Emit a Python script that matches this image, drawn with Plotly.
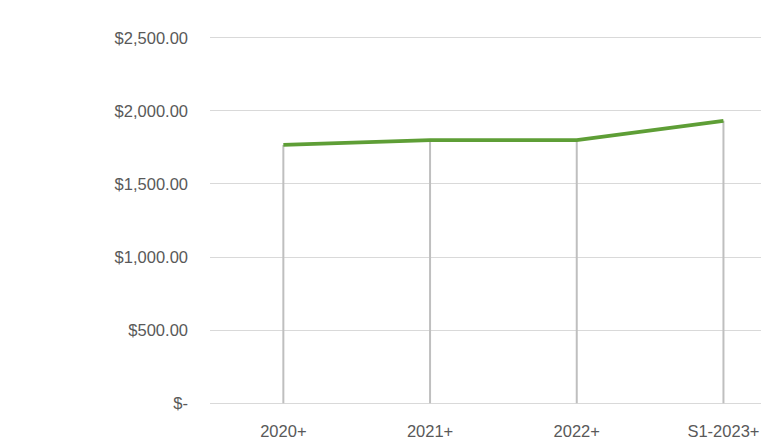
import plotly.graph_objects as go

categories = ["2020+", "2021+", "2022+", "S1-2023+"]
values = [1767, 1800, 1800, 1932]
y_tick_vals = [0, 500, 1000, 1500, 2000, 2500]
y_tick_labels = ["$-", "$500.00", "$1,000.00", "$1,500.00", "$2,000.00", "$2,500.00"]

font_family = "Liberation Sans, Arial, sans-serif"
text_color = "#595959"

drop_x, drop_y = [], []
for c, v in zip(categories, values):
    drop_x += [c, c, None]
    drop_y += [0, v, None]

fig = go.Figure()
fig.add_trace(go.Scatter(x=drop_x, y=drop_y, mode="lines",
                         line=dict(color="#bfbfbf", width=2),
                         hoverinfo="skip", showlegend=False))
fig.add_trace(go.Scatter(x=categories, y=values, mode="lines",
                         line=dict(color="#5e9e36", width=3.8),
                         showlegend=False))

fig.update_layout(
    width=761, height=440,
    margin=dict(l=210, r=0, t=36, b=35),
    paper_bgcolor="white", plot_bgcolor="white",
    font=dict(family=font_family, size=16.5, color=text_color),
    xaxis=dict(type="category", categoryorder="array", categoryarray=categories,
               range=[-0.5, 3.256], showgrid=False, zeroline=False,
               showline=False, ticks="", ticklabelstandoff=14,
               tickfont=dict(size=16.5, color=text_color)),
    yaxis=dict(range=[-12, 2512], tickvals=y_tick_vals, ticktext=y_tick_labels,
               showgrid=True, gridcolor="#d9d9d9", gridwidth=1.3,
               zeroline=False, showline=False, ticks="", ticklabelstandoff=21,
               tickfont=dict(size=16.5, color=text_color)),
)

fig.write_html("out.html", config={"displayModeBar": False},
               post_script="document.body.style.margin='0';document.body.style.overflow='hidden';")
